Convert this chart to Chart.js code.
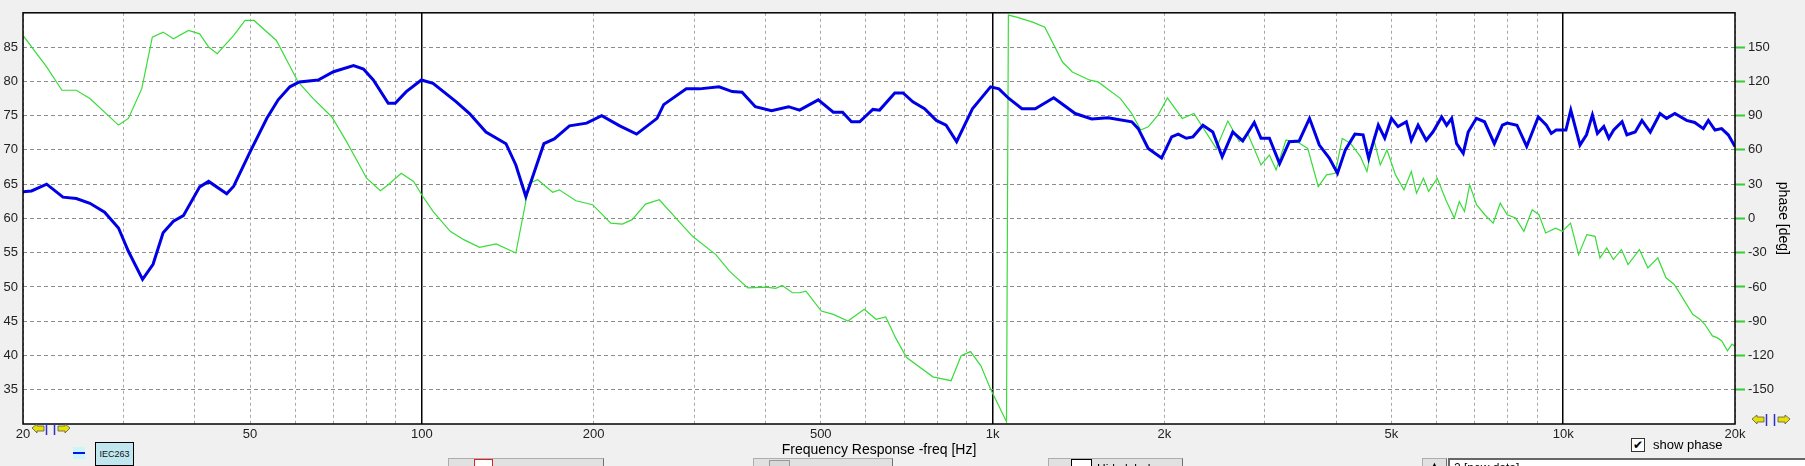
<!DOCTYPE html>
<html>
<head>
<meta charset="utf-8">
<script src="https://cdn.jsdelivr.net/npm/chart.js@4.4.1/dist/chart.umd.min.js"></script>
<style>
  body { margin: 0; background: #f0f0f0; font-family: "Liberation Sans", Arial, sans-serif; }
  #wrap { position: relative; width: 1805px; height: 466px; overflow: hidden; }
  #myChart { position: absolute; left: 0; top: 0; }
  .abs { position: absolute; }
  .btn { position: absolute; top: 458px; height: 20px; background: #e1e1e1; border: 1px solid #adadad; border-right-color: #707070; }
</style>
</head>
<body>
<div id="wrap">
  <canvas id="myChart" width="1805" height="466"></canvas>

  <!-- стрелки прокрутки -->
  <svg class="abs" style="left:31px;top:423px" width="42" height="12">
    <polygon points="1,5 6,1 6,3 13,3 13,8 6,8 6,10" fill="#e8e000" stroke="#555" stroke-width="0.8"/>
    <line x1="15.5" y1="0" x2="15.5" y2="12" stroke="#3030c0" stroke-width="1.5"/>
    <line x1="23.5" y1="0" x2="23.5" y2="12" stroke="#3030c0" stroke-width="1.5"/>
    <polygon points="39,5 34,1 34,3 27,3 27,8 34,8 34,10" fill="#e8e000" stroke="#555" stroke-width="0.8"/>
  </svg>
  <svg class="abs" style="left:1751px;top:414px" width="42" height="12">
    <polygon points="1,5 6,1 6,3 13,3 13,8 6,8 6,10" fill="#e8e000" stroke="#555" stroke-width="0.8"/>
    <line x1="15.5" y1="0" x2="15.5" y2="12" stroke="#3030c0" stroke-width="1.5"/>
    <line x1="23.5" y1="0" x2="23.5" y2="12" stroke="#3030c0" stroke-width="1.5"/>
    <polygon points="39,5 34,1 34,3 27,3 27,8 34,8 34,10" fill="#e8e000" stroke="#555" stroke-width="0.8"/>
  </svg>

  <!-- легенда -->
  <div class="abs" style="left:73px;top:447px;width:12px;height:12px;background:#c8f6fc">
    <div class="abs" style="left:0;top:5px;width:12px;height:2px;background:#1010e0"></div>
  </div>
  <div class="abs" style="left:95px;top:442px;width:37px;height:22px;background:#c0e6f0;border:1px solid #000;font-size:9px;line-height:22px;text-align:center;color:#111">IEC263</div>

  <!-- show phase -->
  <div class="abs" style="left:1631px;top:438px;width:12px;height:12px;background:#fff;border:1px solid #333;font-size:12px;line-height:12px;text-align:center;color:#000">&#10004;</div>
  <div class="abs" style="left:1653px;top:437px;font-size:13px;line-height:16px;color:#000">show phase</div>

  <!-- нижние кнопки (обрезаны) -->
  <div class="btn" style="left:448px;width:154px">
    <div class="abs" style="left:25px;top:0;width:17px;height:12px;border:1px solid #e02020;background:#fff"></div>
  </div>
  <div class="btn" style="left:753px;width:138px">
    <div class="abs" style="left:15px;top:1px;width:19px;height:12px;border:1px solid #999;background:#d8d8d8"></div>
  </div>
  <div class="btn" style="left:1048px;width:133px">
    <div class="abs" style="left:22px;top:0;width:19px;height:12px;border:1px solid #000;background:#fff"></div>
    <div class="abs" style="left:48px;top:3px;font-size:12px;color:#000">Hide labels</div>
  </div>
  <div class="btn" style="left:1422px;width:23px;text-align:center;font-size:9px;line-height:12px">&#9650;</div>
  <div class="abs" style="left:1448px;top:458px;width:360px;height:20px;background:#fff;border-top:2px solid #666;border-left:2px solid #666;font-size:12px;padding-left:4px;line-height:16px">2 [new data]</div>
</div>

<script>
// АЧХ (синяя линия, левая ось, дБ)
const splFreq = [20, 20.7, 22.0, 23.5, 24.8, 26.2, 27.8, 29.4, 30.6, 32.4, 33.8, 35.2, 36.7, 38.2, 40.8, 42.3, 45.5, 46.8, 50.0, 53.5,
  56.0, 58.7, 61.0, 65.8, 70.0, 75.9, 79.0, 82.2, 87.3, 89.8, 93.9, 99.8, 104.6, 114.9, 121.2, 129.5, 140.4, 146.1, 152.1, 156.1,
  163.6, 170.6, 181.4, 194.4, 206.6, 222.2, 237.8, 258.3, 265.3, 290.6, 306.5, 331.7, 349.8, 364, 384, 410, 439, 459, 495, 526,
  546, 566, 585, 617, 634, 674, 697, 725, 760, 797, 829, 865, 922, 992, 1026, 1068, 1126, 1188, 1280, 1396,
  1492, 1594, 1754, 1800, 1874, 1978, 2060, 2115, 2185, 2245, 2337, 2432, 2526, 2636, 2744, 2875, 2954, 3056, 3184, 3312,
  3446, 3593, 3738, 3891, 4022, 4152, 4315, 4460, 4561, 4742, 4867, 5001, 5135, 5310, 5418, 5568, 5754, 5910, 6124, 6248,
  6376, 6505, 6680, 6815, 7045, 7280, 7574, 7823, 7978, 8298, 8630, 9043, 9345, 9530, 9720, 10110, 10310, 10700, 10985, 11250,
  11480, 11780, 12020, 12260, 12680, 12930, 13370, 13740, 14210, 14780, 15180, 15690, 16450, 17000, 17600, 17960, 18450, 18950, 19460, 20000];
const splDb = [63.9, 64.0, 65.0, 63.1, 62.9, 62.2, 60.9, 58.6, 55.2, 51.1, 53.3, 57.9, 59.6, 60.4, 64.6, 65.4, 63.6, 64.7, 69.7, 74.6,
  77.3, 79.2, 79.9, 80.2, 81.4, 82.3, 81.8, 80.2, 76.8, 76.8, 78.5, 80.2, 79.7, 77.0, 75.3, 72.6, 70.9, 67.8, 63.2, 65.9,
  70.9, 71.6, 73.5, 73.9, 75.0, 73.5, 72.3, 74.6, 76.6, 78.9, 78.9, 79.2, 78.5, 78.4, 76.3, 75.7, 76.3, 75.8, 77.3, 75.5,
  75.5, 74.1, 74.1, 75.9, 75.8, 78.3, 78.3, 77.0, 76.0, 74.3, 73.6, 71.2, 76.0, 79.2, 78.9, 77.5, 76.0, 76.0, 77.6, 75.3,
  74.5, 74.7, 74.1, 73.1, 70.2, 68.8, 71.9, 72.3, 71.7, 71.9, 73.6, 72.6, 69.0, 72.6, 71.3, 74.0, 71.7, 71.7, 68.0, 71.2,
  71.3, 74.6, 70.7, 68.8, 66.6, 70.0, 72.3, 72.2, 68.8, 73.6, 71.7, 74.6, 73.4, 74.1, 71.4, 73.6, 71.4, 72.6, 74.8, 73.6,
  74.6, 70.9, 69.5, 72.6, 74.6, 74.1, 70.9, 73.6, 73.9, 73.6, 70.5, 74.8, 73.6, 72.4, 72.9, 72.9, 75.8, 70.7, 72.2, 75.1,
  72.4, 73.4, 71.7, 72.9, 74.1, 72.2, 72.6, 74.3, 72.6, 75.3, 74.6, 75.3, 74.3, 74.0, 73.1, 74.3, 72.9, 73.1, 72.2, 70.5];

// Фаза (зелёная линия, правая ось, градусы)
const phaseFreq = [20, 22.0, 23.4, 24.8, 26.2, 29.4, 30.6, 32.3, 33.7, 35.2, 36.7, 39.0, 40.8, 42.3, 43.8, 46.8, 49.0, 50.8, 55.6, 60.7,
  64.5, 69.5, 73.8, 80, 84.6, 87.3, 92, 96.7, 100.4, 104.6, 112.1, 118.4, 126.2, 134.9, 146.1, 154.3, 159.6, 169.5, 174.1, 186.2,
  199.1, 214.3, 224.5, 233.6, 246.6, 260.6, 298, 327.4, 345.9, 372.4, 401, 417, 428, 446, 459, 471, 501, 526, 558, 596,
  625, 650, 676, 707, 786, 846, 881, 915, 954, 992, 1058, 1066, 1102, 1176, 1235, 1326, 1380, 1481, 1531, 1676,
  1754, 1818, 1874, 1950, 2025, 2150, 2254, 2466, 2584, 2706, 2800, 2954, 3056, 3140, 3268, 3446, 3567, 3722, 3849, 3985,
  4100, 4240, 4412, 4530, 4653, 4780, 4912, 5083, 5260, 5418, 5533, 5690, 5810, 6015, 6226, 6442, 6575, 6715, 6856, 7048,
  7287, 7537, 7756, 7978, 8250, 8533, 8825, 9066, 9317, 9697, 9963, 10300, 10640, 11000, 11370, 11600, 11920, 12240, 12650, 12990,
  13600, 14070, 14650, 15140, 15650, 16300, 16860, 17360, 17700, 18260, 18600, 18960, 19400, 19760, 20000];
const phaseDeg = [160.2, 132.6, 112.2, 112.2, 104.9, 81.7, 87.5, 113.6, 158.7, 163.1, 157.2, 164.6, 161.6, 150, 144.2, 160.2, 173.3, 173.3, 155.8, 119.5,
  104.9, 89, 67.2, 35.2, 24.2, 29.4, 39.5, 32.3, 19.2, 6.1, -11.3, -18.6, -25.3, -22.4, -30.3, 30.8, 33.8, 22.9, 25, 15.4,
  12, -4.1, -5, -1.1, 12.5, 16.3, -15.7, -31.7, -46.2, -60.8, -60.2, -61.3, -58.7, -65.1, -65.1, -63.7, -81.1, -84.0, -89.8, -79.6,
  -88.3, -86.3, -104.4, -121.8, -138.7, -142.1, -120.3, -116.6, -129.1, -149.4, -178, 178, 176.2, 171.8, 167.4, 136.9, 128.2, 121, 119.5, 104.9,
  91.8, 77.4, 80.2, 90.4, 105.5, 87.5, 91.8, 61.3, 85.2, 67.2, 74.4, 46.8, 55.5, 42.5, 68.6, 66, 61.3, 27.9, 38.1, 39.5,
  70, 65.7, 54.1, 41, 70, 46.8, 59.9, 38.1, 25, 41, 22.1, 35.2, 23.6, 35.2, 16.3, 0.3, 14.8, 6.1, 29.4, 12,
  3.2, -4.1, 13.3, 3.2, 0.3, -11.3, 7.6, 3.2, -12.8, -8.5, -11.3, -4.1, -31.7, -14.2, -15.7, -34.6, -25.9, -36, -27.3, -40.4,
  -27.3, -43.3, -34.6, -52, -57.8, -72, -84, -88.3, -92.7, -102.9, -104.4, -107.3, -116, -110.1, -112];

// Деления осей
const freqTicks = [20, 30, 40, 50, 60, 70, 80, 90, 100, 200, 300, 400, 500, 600, 700, 800, 900,
  1000, 2000, 3000, 4000, 5000, 6000, 7000, 8000, 9000, 10000, 20000];
const freqLabels = { 20: '20', 50: '50', 100: '100', 200: '200', 500: '500', 1000: '1k', 2000: '2k', 5000: '5k', 10000: '10k', 20000: '20k' };
const majorFreqs = [100, 1000, 10000];
const dbTicks = [35, 40, 45, 50, 55, 60, 65, 70, 75, 80, 85];
const phaseTicks = [-150, -120, -90, -60, -30, 0, 30, 60, 90, 120, 150];

const isMajor = c => c.tick && majorFreqs.includes(c.tick.value);

// белое поле графика и рамка
const plotFrame = {
  id: 'plotFrame',
  beforeDraw(chart) {
    const { ctx, chartArea: a } = chart;
    ctx.save();
    ctx.fillStyle = '#fff';
    ctx.fillRect(a.left, a.top, a.right - a.left, a.bottom - a.top);
    ctx.restore();
  },
  afterDatasetsDraw(chart) {
    const { ctx, chartArea: a } = chart;
    ctx.save();
    ctx.strokeStyle = '#000';
    ctx.lineWidth = 1.5;
    ctx.strokeRect(a.left, a.top, a.right - a.left, a.bottom - a.top);
    ctx.restore();
  }
};

Chart.defaults.font.family = '"Liberation Sans", Arial, sans-serif';
Chart.defaults.color = '#222';

const ctx = document.getElementById('myChart').getContext('2d');
const myChart = new Chart(ctx, {
  type: 'line',
  data: {
    datasets: [{
      label: 'IEC263',
      data: splFreq.map((f, i) => ({ x: f, y: splDb[i] })),
      borderColor: '#0000e6',
      borderWidth: 3,
      pointRadius: 0,
      tension: 0,
      yAxisID: 'y'
    }, {
      label: 'phase',
      data: phaseFreq.map((f, i) => ({ x: f, y: phaseDeg[i] })),
      borderColor: '#38dc38',
      borderWidth: 1.2,
      pointRadius: 0,
      tension: 0,
      yAxisID: 'y2'
    }]
  },
  options: {
    responsive: false,
    animation: false,
    layout: { padding: { top: 10, left: 0, right: 0, bottom: 0 } },
    plugins: {
      legend: { display: false },
      tooltip: { enabled: false }
    },
    scales: {
      x: {
        type: 'logarithmic',
        min: 20,
        max: 20000,
        afterBuildTicks: s => { s.ticks = freqTicks.map(v => ({ value: v })); },
        afterFit: s => { s.height = 42; },
        ticks: {
          autoSkip: false,
          maxRotation: 0,
          padding: 3,
          font: { size: 13 },
          callback: v => freqLabels[v] || ''
        },
        grid: {
          color: c => isMajor(c) ? '#000' : '#a8a8a8',
          lineWidth: c => isMajor(c) ? 1.5 : 1,
          drawTicks: false
        },
        border: { display: false, dash: c => isMajor(c) ? [] : [3, 3] },
        title: {
          display: true,
          text: 'Frequency Response -freq [Hz]',
          color: '#000',
          font: { size: 14 },
          padding: { top: 0, bottom: 7 }
        }
      },
      y: {
        position: 'left',
        min: 30,
        max: 90,
        afterBuildTicks: s => { s.ticks = dbTicks.map(v => ({ value: v })); },
        afterFit: s => { s.width = 23; },
        ticks: { padding: 5, font: { size: 13 } },
        grid: { color: '#8c8c8c', drawTicks: false },
        border: { display: false, dash: [4, 3] }
      },
      y2: {
        position: 'right',
        min: -180,
        max: 180,
        afterBuildTicks: s => { s.ticks = phaseTicks.map(v => ({ value: v })); },
        afterFit: s => { s.width = 70; },
        ticks: { padding: 3, font: { size: 13 } },
        grid: {
          drawOnChartArea: false,
          color: '#38cc38',
          tickColor: '#38cc38',
          tickLength: 10,
          tickWidth: 2
        },
        border: { display: false },
        title: {
          display: true,
          text: 'phase [deg]',
          color: '#000',
          font: { size: 14 },
          padding: { top: 14, bottom: 0 }
        }
      }
    }
  },
  plugins: [plotFrame]
});
</script>
</body>
</html>
